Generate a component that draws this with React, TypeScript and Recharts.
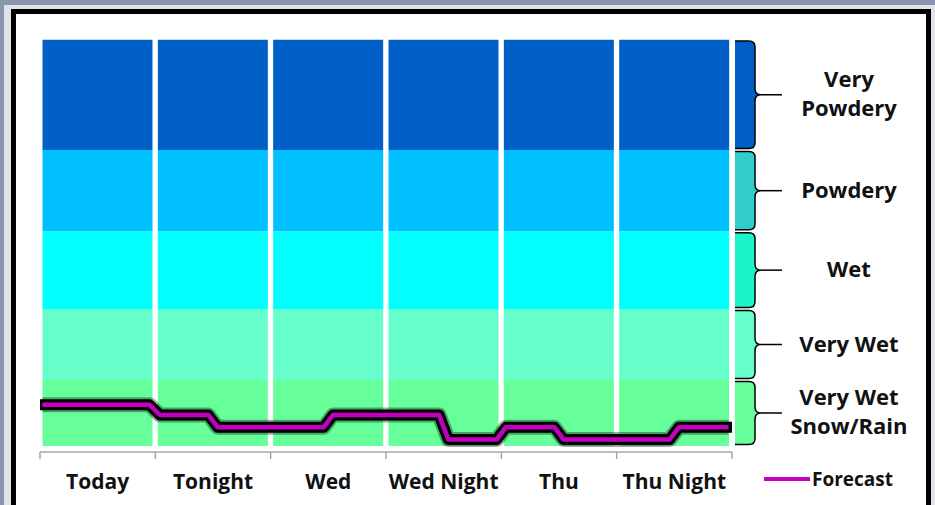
import { Bar, ComposedChart, Legend, Line, ReferenceArea, XAxis, YAxis } from "recharts";

// periods along the bottom
const categories = ["Today", "Tonight", "Wed", "Wed Night", "Thu", "Thu Night"];

// snow quality bands, listed bottom to top
const bandLabels = ["Very Wet\nSnow/Rain", "Very Wet", "Wet", "Powdery", "Very\nPowdery"];
const bandSizes = [16.2, 17.5, 19.1, 20.0, 27.2];
const bandColors = ["#66FF99", "#66FFCC", "#00FFFF", "#00C0FF", "#0060C8"];
const braceColors = ["#66FF99", "#66FFCC", "#19F5C8", "#33CCCC", "#0060C8"];

// forecast trace: position in periods, value on the band scale
const forecastT = [0.02, 0.95, 1.04, 1.46, 1.54, 2.46, 2.54, 3.46, 3.54, 3.96, 4.04, 4.46, 4.54, 5.46, 5.54, 5.97];
const forecastV = [10.1, 10.1, 7.6, 7.6, 4.6, 4.6, 7.6, 7.6, 1.6, 1.6, 4.6, 4.6, 1.6, 1.6, 4.6, 4.6];

const periodTicks = [0, 1, 2, 3, 4, 5, 6];
const legendLabel = "Forecast";

const FONT = "'Open Sans', sans-serif";
const MAGENTA = "#C400C0";

const barData = categories.map((name) => {
  const row: Record<string, string | number> = { name };
  bandSizes.forEach((s, i) => (row[`b${i}`] = s));
  return row;
});

const lineData = forecastT.map((t, i) => ({ t, v: forecastV[i] }));

// cumulative band edges, rounded so the top edge stays inside the domain
const bandEdges = bandSizes.reduce<number[]>(
  (acc, s) => [...acc, Math.round((acc[acc.length - 1] + s) * 100) / 100],
  [0]
);

function Brace(props: any) {
  const { x, y, width, height, index } = props;
  const x0 = x + width + 3;
  const x1 = x0 + 20;
  const top = y + 1.5;
  const bot = y + height - 1.5;
  const mid = (top + bot) / 2;
  const r = 6;
  const outline =
    `M${x0},${top} H${x1 - r} Q${x1},${top} ${x1},${top + r} V${mid - r} ` +
    `Q${x1},${mid} ${x1 + 6},${mid} Q${x1},${mid} ${x1},${mid + r} V${bot - r} ` +
    `Q${x1},${bot} ${x1 - r},${bot} H${x0}`;
  const lines = bandLabels[index].split("\n");
  const cx = x + width + 117;
  return (
    <g>
      <path d={outline + " Z"} fill={braceColors[index]} stroke="none" />
      <path d={outline} fill="none" stroke="#000" strokeWidth={1.5} />
      <path d={`M${x1 + 6},${mid} H${x1 + 27}`} stroke="#000" strokeWidth={1.5} />
      {lines.map((l, i) => (
        <text
          key={l}
          x={cx}
          y={mid - 2 + (i - (lines.length - 1) / 2) * 29}
          textAnchor="middle"
          dominantBaseline="central"
          fontFamily={FONT}
          fontWeight={700}
          fontSize={22}
          fill="#111"
        >
          {l}
        </text>
      ))}
    </g>
  );
}

function ForecastLegend() {
  return (
    <div style={{ display: "flex", alignItems: "center", fontFamily: FONT, fontWeight: 700, fontSize: 19, color: "#111" }}>
      <svg width={48} height={10}>
        <line x1={0} y1={5} x2={46} y2={5} stroke={MAGENTA} strokeWidth={4} />
      </svg>
      <span>{legendLabel}</span>
    </div>
  );
}

export default function App() {
  return (
    <div style={{ position: "fixed", left: 0, top: 0, width: 935, height: 505, overflow: "hidden", background: "#8C95B0" }}>
      <div style={{ position: "absolute", left: 4, top: 5, width: 931, height: 510, background: "#E2E3E8" }} />
      <div
        style={{
          position: "absolute",
          left: 11,
          top: 9,
          width: 920,
          height: 520,
          boxSizing: "border-box",
          border: "5px solid #000",
          background: "#fff",
        }}
      />
      <div style={{ position: "absolute", left: 0, top: 0 }}>
        <ComposedChart width={935} height={505} data={barData} barCategoryGap={2.5} margin={{ top: 39.5, right: 203, bottom: 22, left: 40 }}>
          <XAxis
            xAxisId="a_num"
            type="number"
            dataKey="t"
            domain={[0, 6]}
            ticks={periodTicks}
            allowDataOverflow
            height={1}
            tickFormatter={() => ""}
            tickLine={{ stroke: "#A6A6A6", strokeWidth: 1.5 }}
            axisLine={{ stroke: "#A6A6A6", strokeWidth: 1.5 }}
            tickSize={7}
          />
          <XAxis
            xAxisId="b_cat"
            dataKey="name"
            height={30}
            axisLine={false}
            tickLine={false}
            tickSize={0}
            tickMargin={21}
            interval={0}
            tick={{ fill: "#111", fontSize: 21, fontWeight: 700, fontFamily: FONT }}
          />
          <YAxis hide type="number" domain={[-1.5, 100]} allowDataOverflow />
          {bandSizes.map((_, i) => (
            <Bar
              key={`b${i}`}
              xAxisId="b_cat"
              dataKey={`b${i}`}
              stackId="s"
              fill={bandColors[i]}
              isAnimationActive={false}
              legendType="none"
            />
          ))}
          {bandSizes.map((_, i) => (
            <ReferenceArea
              key={`brace${i}`}
              xAxisId="a_num"
              x1={0}
              x2={6}
              y1={bandEdges[i]}
              y2={bandEdges[i + 1]}
              ifOverflow="visible"
              shape={(p: any) => <Brace {...p} index={i} />}
            />
          ))}
          <Line
            xAxisId="a_num"
            data={lineData}
            dataKey="v"
            type="linear"
            stroke="rgba(0,0,0,0.35)"
            strokeWidth={15}
            strokeLinejoin="round"
            dot={false}
            activeDot={false}
            legendType="none"
            isAnimationActive={false}
          />
          <Line
            xAxisId="a_num"
            data={lineData}
            dataKey="v"
            type="linear"
            stroke="#000"
            strokeWidth={11}
            strokeLinejoin="round"
            strokeLinecap="square"
            dot={false}
            activeDot={false}
            legendType="none"
            isAnimationActive={false}
          />
          <Line
            xAxisId="a_num"
            data={lineData}
            dataKey="v"
            name={legendLabel}
            type="linear"
            stroke={MAGENTA}
            strokeWidth={4.5}
            strokeLinejoin="round"
            dot={false}
            activeDot={false}
            isAnimationActive={false}
          />
          <Legend
            layout="vertical"
            verticalAlign="middle"
            align="center"
            wrapperStyle={{ left: 764, top: 466, width: 160 }}
            content={() => <ForecastLegend />}
          />
        </ComposedChart>
      </div>
    </div>
  );
}
